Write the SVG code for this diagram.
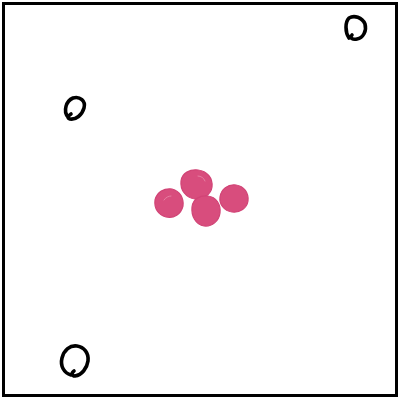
<svg xmlns="http://www.w3.org/2000/svg" width="400" height="400" viewBox="0 0 400 400">
<style>
.ring{fill:none;stroke:#000;stroke-width:3.6;stroke-linecap:round;stroke-linejoin:round}
.dot{fill:#d84d7d;stroke:#d14476;stroke-width:1.2}
.hl{fill:none;stroke:#e98aa9;stroke-width:0.8;stroke-linecap:round}
</style>
<rect x="3.5" y="3.5" width="393" height="392" fill="#fff" stroke="#000" stroke-width="3"/>
<g id="ring-top-right">
<path class="ring" d="M349 38 C345 32 345 22 349 18 C354 15 362 17 365 24 C367 31 363 38 357 39 C353 40 349 38 352 35"/>
</g>
<g id="ring-left">
<path class="ring" d="M68 117 C63 111 66 101 73 98 C80 96 86 101 84 108 C82 115 76 120 70 119 C67 118 68 116 71 114"/>
</g>
<g id="ring-bottom-left">
<path class="ring" d="M71 375 C64 373 60 366 62 358 C64 350 70 345 77 346 C84 347 89 353 88 361 C87 368 82 375 75 376 C72 376 71 373 74 371"/>
</g>
<g id="cluster">
<g id="blob-1"><path class="dot" d="M155 200 C157 192 164 188 172 189 C180 191 184 198 183 206 C181 214 174 219 166 217 C158 215 154 208 155 200 Z"/><path class="hl" d="M164 200 C166 197 169 196 171 196"/></g>
<g id="blob-2"><path class="dot" d="M181 181 C182 173 190 169 198 170 C207 171 213 178 212 187 C211 195 203 199 195 199 C186 198 180 190 181 181 Z"/><path class="hl" d="M198 176 C201 176 204 178 205 181"/></g>
<g id="blob-3"><path class="dot" d="M192 207 C193 199 200 195 208 196 C216 197 221 204 220 213 C219 221 212 227 204 226 C196 225 191 216 192 207 Z"/></g>
<g id="blob-4"><path class="dot" d="M220 197 C221 189 228 184 236 185 C244 186 249 193 248 201 C247 208 240 213 232 212 C224 211 219 204 220 197 Z"/></g>
</g>
</svg>
